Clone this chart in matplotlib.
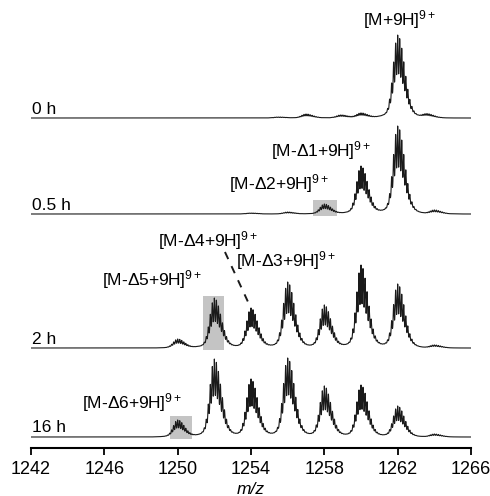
import numpy as np
import matplotlib
matplotlib.use("Agg")
import matplotlib.pyplot as plt
from matplotlib.patches import Rectangle

plt.rcParams['font.family'] = ['Liberation Sans', 'DejaVu Sans']
plt.rcParams['mathtext.fontset'] = 'custom'
plt.rcParams['mathtext.rm'] = 'Liberation Sans'
plt.rcParams['mathtext.it'] = 'Liberation Sans:italic'

# isotope cluster centres (m/z) and heights for each time point
times = ["0 h", "0.5 h", "2 h", "16 h"]
centres_0h = [1255.5, 1257.0, 1258.9, 1260.0, 1262.0, 1263.6]
heights_0h = [1, 4, 3, 5, 83, 4]
centres_05h = [1254.0, 1256.0, 1258.0, 1260.0, 1262.0, 1264.0]
heights_05h = [1, 2, 10, 48, 88, 4]
centres_2h = [1250.0, 1252.0, 1254.0, 1256.0, 1258.0, 1260.0, 1262.0, 1264.0]
heights_2h = [9, 50, 40, 66, 43, 83, 64, 3]
centres_16h = [1250.0, 1252.0, 1254.0, 1256.0, 1258.0, 1260.0, 1262.0, 1264.0]
heights_16h = [17, 78, 58, 79, 51, 52, 31, 3]

# shaded regions: trace index, m/z start, m/z end, top
box_trace = [1, 2, 3]
box_lo = [1257.4, 1251.4, 1249.6]
box_hi = [1258.7, 1252.5, 1250.8]
box_top = [14, 52, 21]

# species labels: text, m/z of left edge, height of baseline
label_text = [r"[M+9H]$^{\rm 9+}$", r"[M-Δ1+9H]$^{\rm 9+}$", r"[M-Δ2+9H]$^{\rm 9+}$",
              r"[M-Δ4+9H]$^{\rm 9+}$", r"[M-Δ3+9H]$^{\rm 9+}$", r"[M-Δ5+9H]$^{\rm 9+}$",
              r"[M-Δ6+9H]$^{\rm 9+}$"]
label_mz = [1260.1, 1255.1, 1252.8, 1248.9, 1253.2, 1245.9, 1244.8]
label_y = [423, 292, 259, 202, 182, 163, 40]

offsets = [330, 234, 100, 11]
spectra = [(centres_0h, heights_0h), (centres_05h, heights_05h),
           (centres_2h, heights_2h), (centres_16h, heights_16h)]

mz = np.arange(1242.0, 1266.0, 0.004)
charge = 9


def cluster(x, c, h):
    # skewed envelope with resolved isotope peaks spaced 1/z apart
    sig = np.where(x < c, 0.24, 0.36)
    env = np.exp(-(x - c) ** 2 / (2 * sig ** 2))
    k = np.arange(-14, 15)
    comb = np.exp(-(x[:, None] - c - k[None, :] / charge) ** 2 / (2 * 0.022 ** 2)).sum(axis=1)
    tail = 0.09 * np.exp(-(x - c - 0.1) ** 2 / (2 * 0.65 ** 2))
    return h * (env * (0.45 + 0.55 * comb) + tail) / 1.09


fig = plt.figure(figsize=(4.9, 4.96), dpi=100)
ax = fig.add_axes([31 / 490, 1 - 448 / 496, 440 / 490, 448 / 496])

for i, (cs, hs) in enumerate(spectra):
    y = np.zeros_like(mz)
    for c, h in zip(cs, hs):
        y += cluster(mz, c, h)
    ax.plot(mz, offsets[i] + y, color="#1a1a1a", lw=0.8, zorder=3)
    ax.text(1242.05, offsets[i] + 4.5, times[i], fontsize=12.5, ha="left", va="baseline")

for t, lo, hi, top in zip(box_trace, box_lo, box_hi, box_top):
    ax.add_patch(Rectangle((lo, offsets[t] - 1.5), hi - lo, top + 1.5,
                           facecolor="#c4c4c4", edgecolor="none", zorder=1))

for s, x, y in zip(label_text, label_mz, label_y):
    ax.text(x, y, s, fontsize=12.5, ha="left", va="baseline")

ax.plot([1252.58, 1253.89], [196, 144], color="#1a1a1a", lw=1.4, ls=(0, (4, 4)))

ax.set_xlim(1242, 1266)
ax.set_ylim(0, 448)
ax.set_xticks(np.arange(1242, 1267, 4))
ax.tick_params(axis="x", direction="out", length=5, width=1.3, labelsize=13, pad=4)
ax.set_yticks([])
for side in ["left", "right", "top"]:
    ax.spines[side].set_visible(False)
ax.spines["bottom"].set_linewidth(1.5)
ax.set_xlabel("m/z", fontsize=12.5, style="italic", labelpad=3)

fig.savefig("out.png", dpi=100)
